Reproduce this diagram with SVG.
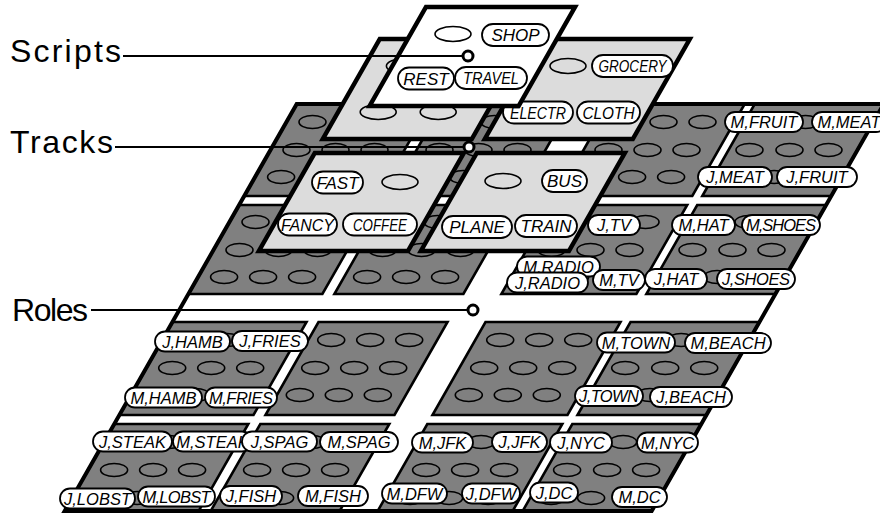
<svg xmlns="http://www.w3.org/2000/svg" xmlns:xlink="http://www.w3.org/1999/xlink" width="880" height="515" viewBox="0 0 880 515">
<style>
.frame{fill:none;stroke:#000;stroke-width:4;stroke-linejoin:miter}
.bg{fill:#fff;stroke:none}
.tile{fill:#808080;stroke:#000;stroke-width:2.6}
.plane{fill:#dcdcdc;stroke:#000;stroke-width:4.5}
.script{fill:#fff;stroke:#000;stroke-width:4.5}
.e{fill:none;stroke:#000;stroke-width:1.6}
.p{fill:#fff;stroke:#000;stroke-width:1.8}
.t{font-family:"Liberation Sans",Arial,sans-serif;font-style:italic;font-size:16.5px;text-anchor:middle;fill:#000}
.tt{font-family:"Liberation Sans",Arial,sans-serif;font-style:italic;font-size:17px;text-anchor:middle;fill:#000}
.lab{font-family:"Liberation Sans",Arial,sans-serif;font-size:32px;fill:#000}
.ln{stroke:#000;stroke-width:2;fill:none}
.mk{fill:#fff;stroke:#000;stroke-width:3}
</style>
<defs>
<ellipse id="re" cx="0" cy="0" rx="13.5" ry="6.5" class="e"/>
<ellipse id="te" cx="0" cy="0" rx="18" ry="7.5" class="e"/>
</defs>

<g id="roles">
<polygon class="bg" points="296.7,104 883.7,104 651.7,511 64.7,511"/>
<g id="tile-r1c1"><polygon class="tile" points="296.7,104 430.7,104 378.3,196 244.3,196"/>
<use href="#re" x="312.5" y="122"/><use href="#re" x="351.5" y="122"/><use href="#re" x="390.5" y="122"/>
<use href="#re" x="296.5" y="150"/><use href="#re" x="335.5" y="150"/><use href="#re" x="374.5" y="150"/>
<use href="#re" x="281.1" y="177"/><use href="#re" x="320.1" y="177"/><use href="#re" x="359.1" y="177"/></g>
<g id="tile-r1c2"><polygon class="tile" points="442.7,104 571.7,104 519.3,196 390.3,196"/>
<use href="#re" x="455.5" y="122"/><use href="#re" x="494.5" y="122"/><use href="#re" x="533.5" y="122"/>
<use href="#re" x="439.5" y="150"/><use href="#re" x="478.5" y="150"/><use href="#re" x="517.5" y="150"/>
<use href="#re" x="424.1" y="177"/><use href="#re" x="463.1" y="177"/><use href="#re" x="502.1" y="177"/></g>
<g id="tile-r1c3"><polygon class="tile" points="609.7,104 744.7,104 692.3,196 557.3,196"/>
<use href="#re" x="624.5" y="122"/><use href="#re" x="663.5" y="122"/><use href="#re" x="702.5" y="122"/>
<use href="#re" x="608.5" y="150"/><use href="#re" x="647.5" y="150"/><use href="#re" x="686.5" y="150"/>
<use href="#re" x="593.1" y="177"/><use href="#re" x="632.1" y="177"/><use href="#re" x="671.1" y="177"/></g>
<g id="tile-r1c4"><polygon class="tile" points="754.7,104 883.7,104 831.3,196 702.3,196"/>
<use href="#re" x="765.5" y="122"/><use href="#re" x="805.5" y="122"/><use href="#re" x="844.5" y="122"/>
<use href="#re" x="749.5" y="150"/><use href="#re" x="789.5" y="150"/><use href="#re" x="828.5" y="150"/>
<use href="#re" x="734.1" y="177"/><use href="#re" x="774.1" y="177"/><use href="#re" x="813.1" y="177"/></g>

<g id="tile-r2c1"><polygon class="tile" points="239.2,205 373.2,205 322.4,294 188.4,294"/>
<use href="#re" x="255.5" y="222"/><use href="#re" x="294.5" y="222"/><use href="#re" x="333.5" y="222"/>
<use href="#re" x="239.5" y="250"/><use href="#re" x="278.5" y="250"/><use href="#re" x="317.5" y="250"/>
<use href="#re" x="224.1" y="277"/><use href="#re" x="263.1" y="277"/><use href="#re" x="302.1" y="277"/></g>
<g id="tile-r2c2"><polygon class="tile" points="385.2,205 514.2,205 463.4,294 334.4,294"/>
<use href="#re" x="398.5" y="222"/><use href="#re" x="437.5" y="222"/><use href="#re" x="476.5" y="222"/>
<use href="#re" x="382.5" y="250"/><use href="#re" x="421.5" y="250"/><use href="#re" x="460.5" y="250"/>
<use href="#re" x="367.1" y="277"/><use href="#re" x="406.1" y="277"/><use href="#re" x="445.1" y="277"/></g>
<g id="tile-r2c3"><polygon class="tile" points="552.2,205 687.2,205 636.4,294 501.4,294"/>
<use href="#re" x="567.5" y="222"/><use href="#re" x="606.5" y="222"/><use href="#re" x="645.5" y="222"/>
<use href="#re" x="551.5" y="250"/><use href="#re" x="590.5" y="250"/><use href="#re" x="629.5" y="250"/>
<use href="#re" x="536.1" y="277"/><use href="#re" x="575.1" y="277"/><use href="#re" x="614.1" y="277"/></g>
<g id="tile-r2c4"><polygon class="tile" points="697.2,205 826.2,205 775.4,294 646.4,294"/>
<use href="#re" x="708.5" y="222"/><use href="#re" x="748.5" y="222"/><use href="#re" x="787.5" y="222"/>
<use href="#re" x="692.5" y="250"/><use href="#re" x="732.5" y="250"/><use href="#re" x="771.5" y="250"/>
<use href="#re" x="677.1" y="277"/><use href="#re" x="717.1" y="277"/><use href="#re" x="756.1" y="277"/></g>

<g id="tile-r3c1"><polygon class="tile" points="172.5,322 306.5,322 253.5,415 119.5,415"/>
<use href="#re" x="188.2" y="340"/><use href="#re" x="227.2" y="340"/><use href="#re" x="266.2" y="340"/>
<use href="#re" x="172.2" y="368"/><use href="#re" x="211.2" y="368"/><use href="#re" x="250.2" y="368"/>
<use href="#re" x="156.8" y="395"/><use href="#re" x="195.8" y="395"/><use href="#re" x="234.8" y="395"/></g>
<g id="tile-r3c2"><polygon class="tile" points="318.5,322 447.5,322 394.5,415 265.5,415"/>
<use href="#re" x="331.2" y="340"/><use href="#re" x="370.2" y="340"/><use href="#re" x="409.2" y="340"/>
<use href="#re" x="315.2" y="368"/><use href="#re" x="354.2" y="368"/><use href="#re" x="393.2" y="368"/>
<use href="#re" x="299.8" y="395"/><use href="#re" x="338.8" y="395"/><use href="#re" x="377.8" y="395"/></g>
<g id="tile-r3c3"><polygon class="tile" points="485.5,322 620.5,322 567.5,415 432.5,415"/>
<use href="#re" x="500.2" y="340"/><use href="#re" x="539.2" y="340"/><use href="#re" x="578.2" y="340"/>
<use href="#re" x="484.2" y="368"/><use href="#re" x="523.2" y="368"/><use href="#re" x="562.2" y="368"/>
<use href="#re" x="468.8" y="395"/><use href="#re" x="507.8" y="395"/><use href="#re" x="546.8" y="395"/></g>
<g id="tile-r3c4"><polygon class="tile" points="630.5,322 759.5,322 706.5,415 577.5,415"/>
<use href="#re" x="641.2" y="340"/><use href="#re" x="681.2" y="340"/><use href="#re" x="720.2" y="340"/>
<use href="#re" x="625.2" y="368"/><use href="#re" x="665.2" y="368"/><use href="#re" x="704.2" y="368"/>
<use href="#re" x="609.8" y="395"/><use href="#re" x="649.8" y="395"/><use href="#re" x="688.8" y="395"/></g>

<g id="tile-r4c1"><polygon class="tile" points="114.3,424 248.3,424 198.7,511 64.7,511"/>
<use href="#re" x="130.1" y="442"/><use href="#re" x="169.1" y="442"/><use href="#re" x="208.1" y="442"/>
<use href="#re" x="114.1" y="470"/><use href="#re" x="153.1" y="470"/><use href="#re" x="192.1" y="470"/>
<use href="#re" x="98.1" y="498"/><use href="#re" x="137.1" y="498"/><use href="#re" x="176.1" y="498"/></g>
<g id="tile-r4c2"><polygon class="tile" points="260.3,424 389.3,424 339.7,511 210.7,511"/>
<use href="#re" x="273.1" y="442"/><use href="#re" x="312.1" y="442"/><use href="#re" x="351.1" y="442"/>
<use href="#re" x="257.1" y="470"/><use href="#re" x="296.1" y="470"/><use href="#re" x="335.1" y="470"/>
<use href="#re" x="241.1" y="498"/><use href="#re" x="280.1" y="498"/><use href="#re" x="319.1" y="498"/></g>
<g id="tile-r4c3"><polygon class="tile" points="427.3,424 562.3,424 512.7,511 377.7,511"/>
<use href="#re" x="442.1" y="442"/><use href="#re" x="481.1" y="442"/><use href="#re" x="520.1" y="442"/>
<use href="#re" x="426.1" y="470"/><use href="#re" x="465.1" y="470"/><use href="#re" x="504.1" y="470"/>
<use href="#re" x="410.1" y="498"/><use href="#re" x="449.1" y="498"/><use href="#re" x="488.1" y="498"/></g>
<g id="tile-r4c4"><polygon class="tile" points="572.3,424 701.3,424 651.7,511 522.7,511"/>
<use href="#re" x="583.1" y="442"/><use href="#re" x="623.1" y="442"/><use href="#re" x="662.1" y="442"/>
<use href="#re" x="567.1" y="470"/><use href="#re" x="607.1" y="470"/><use href="#re" x="646.1" y="470"/>
<use href="#re" x="551.1" y="498"/><use href="#re" x="591.1" y="498"/><use href="#re" x="630.1" y="498"/></g>

<polygon id="roles-frame" class="frame" points="296.7,104 883.7,104 651.7,511 64.7,511"/>

<g id="role-pills">
<g><rect class="p" x="725" y="112" width="78" height="20" rx="10"/><text class="t" x="764" y="128">M,FRUIT</text></g>
<g><rect class="p" x="812" y="112" width="74" height="20" rx="10"/><text class="t" x="849" y="128">M,MEAT</text></g>
<g><rect class="p" x="698" y="167" width="74" height="20" rx="10"/><text class="t" x="735" y="183">J,MEAT</text></g>
<g><rect class="p" x="777" y="167" width="80" height="20" rx="10"/><text class="t" x="817" y="183">J,FRUIT</text></g>
<g><rect class="p" x="588" y="215" width="52" height="20" rx="10"/><text class="t" x="614" y="231">J,TV</text></g>
<g><rect class="p" x="672" y="215" width="63" height="20" rx="10"/><text class="t" x="703.5" y="231">M,HAT</text></g>
<g><rect class="p" x="742" y="215" width="78" height="20" rx="10"/><text class="t" x="781" y="231" textLength="70">M,SHOES</text></g>
<g><rect class="p" x="517" y="256.5" width="83" height="20" rx="10"/><text class="t" x="558.5" y="272.5">M,RADIO</text></g>
<g><rect class="p" x="507" y="272.5" width="81" height="20" rx="10"/><text class="t" x="547.5" y="288.5">J,RADIO</text></g>
<g><rect class="p" x="593" y="270" width="52" height="20" rx="10"/><text class="t" x="619" y="286">M,TV</text></g>
<g><rect class="p" x="645" y="269" width="62" height="20" rx="10"/><text class="t" x="676" y="285">J,HAT</text></g>
<g><rect class="p" x="717" y="269" width="78" height="20" rx="10"/><text class="t" x="756" y="285" textLength="68">J,SHOES</text></g>
<g><rect class="p" x="155" y="331.5" width="75" height="20" rx="10"/><text class="t" x="192.5" y="347.5">J,HAMB</text></g>
<g><rect class="p" x="232" y="331" width="76" height="20" rx="10"/><text class="t" x="270" y="347">J,FRIES</text></g>
<g><rect class="p" x="597" y="332.5" width="78" height="20" rx="10"/><text class="t" x="636" y="348.5">M,TOWN</text></g>
<g><rect class="p" x="685" y="333" width="86" height="20" rx="10"/><text class="t" x="728" y="349">M,BEACH</text></g>
<g><rect class="p" x="125" y="387.5" width="77" height="20" rx="10"/><text class="t" x="163.5" y="403.5">M,HAMB</text></g>
<g><rect class="p" x="205" y="387.5" width="72" height="20" rx="10"/><text class="t" x="241" y="403.5" textLength="64">M,FRIES</text></g>
<g><rect class="p" x="575" y="386" width="68" height="20" rx="10"/><text class="t" x="609" y="402" textLength="60">J,TOWN</text></g>
<g><rect class="p" x="650" y="387" width="82" height="20" rx="10"/><text class="t" x="691" y="403">J,BEACH</text></g>
<g><rect class="p" x="93" y="431.5" width="79" height="20" rx="10"/><text class="t" x="132.5" y="447.5">J,STEAK</text></g>
<g><rect class="p" x="173" y="431.5" width="79" height="20" rx="10"/><text class="t" x="212.5" y="447.5">M,STEAK</text></g>
<g><rect class="p" x="242" y="431.5" width="75" height="20" rx="10"/><text class="t" x="279.5" y="447.5">J,SPAG</text></g>
<g><rect class="p" x="320" y="432" width="78" height="20" rx="10"/><text class="t" x="359" y="448">M,SPAG</text></g>
<g><rect class="p" x="412" y="432.5" width="61" height="20" rx="10"/><text class="t" x="442.5" y="448.5">M,JFK</text></g>
<g><rect class="p" x="492" y="432" width="55" height="20" rx="10"/><text class="t" x="519.5" y="448">J,JFK</text></g>
<g><rect class="p" x="550" y="432.5" width="62" height="20" rx="10"/><text class="t" x="581" y="448.5">J,NYC</text></g>
<g><rect class="p" x="637" y="432.5" width="61" height="20" rx="10"/><text class="t" x="667.5" y="448.5">M,NYC</text></g>
<g><rect class="p" x="60" y="488.5" width="75" height="20" rx="10"/><text class="t" x="97.5" y="504.5">J,LOBST</text></g>
<g><rect class="p" x="138" y="486.5" width="77" height="20" rx="10"/><text class="t" x="176.5" y="502.5" textLength="68">M,LOBST</text></g>
<g><rect class="p" x="220" y="486" width="62" height="20" rx="10"/><text class="t" x="251" y="502">J,FISH</text></g>
<g><rect class="p" x="298" y="486" width="70" height="20" rx="10"/><text class="t" x="333" y="502">M,FISH</text></g>
<g><rect class="p" x="382" y="483.5" width="65" height="20" rx="10"/><text class="t" x="414.5" y="499.5">M,DFW</text></g>
<g><rect class="p" x="462" y="483.5" width="58" height="20" rx="10"/><text class="t" x="491" y="499.5">J,DFW</text></g>
<g><rect class="p" x="530" y="482.5" width="48" height="20" rx="10"/><text class="t" x="554" y="498.5">J,DC</text></g>
<g><rect class="p" x="612" y="487" width="55" height="20" rx="10"/><text class="t" x="639.5" y="503">M,DC</text></g>
</g>
</g>

<g id="tracks">
<g id="track-tl"><polygon class="plane" points="379.8,39 528.8,39 471.8,139 322.8,139"/>
<use href="#te" x="404.4" y="66"/><use href="#te" x="464.4" y="66"/><use href="#te" x="378.2" y="112"/><use href="#te" x="438.2" y="112"/></g>
<g id="track-tr"><polygon class="plane" points="541.8,39 689.8,39 632.8,139 484.8,139"/>
<use href="#te" x="568" y="66"/>
<rect class="p" x="592" y="55" width="81" height="22" rx="11"/><text class="tt" x="632.5" y="72" textLength="68" lengthAdjust="spacingAndGlyphs">GROCERY</text>
<rect class="p" x="503" y="101.5" width="70" height="22" rx="11"/><text class="tt" x="538" y="118.5" textLength="56" lengthAdjust="spacingAndGlyphs">ELECTR</text>
<rect class="p" x="577" y="101.5" width="63" height="22" rx="11"/><text class="tt" x="608.5" y="118.5" textLength="52" lengthAdjust="spacingAndGlyphs">CLOTH</text></g>
<g id="track-bl"><polygon class="plane" points="314.8,153 463.8,153 407.9,251 258.9,251"/>
<use href="#te" x="400" y="182"/>
<rect class="p" x="312" y="171.5" width="51" height="22" rx="11"/><text class="tt" x="337.5" y="188.5">FAST</text>
<rect class="p" x="278" y="213.5" width="59" height="22" rx="11"/><text class="tt" x="307.5" y="230.5" textLength="53" lengthAdjust="spacingAndGlyphs">FANCY</text>
<rect class="p" x="343" y="213.5" width="74" height="22" rx="11"/><text class="tt" x="380" y="230.5" textLength="54" lengthAdjust="spacingAndGlyphs">COFFEE</text></g>
<g id="track-br"><polygon class="plane" points="476.8,153 624.8,153 568.9,251 420.9,251"/>
<use href="#te" x="503" y="181"/>
<rect class="p" x="542" y="170" width="45" height="22" rx="11"/><text class="tt" x="564.5" y="187">BUS</text>
<rect class="p" x="442" y="216" width="70" height="22" rx="11"/><text class="tt" x="477" y="233">PLANE</text>
<rect class="p" x="515" y="215" width="62" height="22" rx="11"/><text class="tt" x="546" y="232">TRAIN</text></g>
</g>

<g id="scripts">
<polygon class="script" points="426,7 575,7 518.6,106 369.6,106"/>
<use href="#te" x="453" y="34"/>
<rect class="p" x="482" y="24" width="67" height="22" rx="11"/><text class="tt" x="515.5" y="41">SHOP</text>
<rect class="p" x="398" y="67.5" width="56" height="22" rx="11"/><text class="tt" x="426" y="84.5">REST</text>
<rect class="p" x="455" y="67" width="72" height="22" rx="11"/><text class="tt" x="491" y="84" textLength="56" lengthAdjust="spacingAndGlyphs">TRAVEL</text>
</g>

<g id="connectors">
<line class="ln" x1="123" y1="56" x2="463" y2="56"/>
<line class="ln" x1="115" y1="147" x2="464" y2="147"/>
<line class="ln" x1="91" y1="310" x2="468" y2="310"/>
<circle class="mk" cx="468" cy="56" r="5"/>
<circle class="mk" cx="469" cy="147" r="5"/>
<circle class="mk" cx="473" cy="310" r="5"/>
</g>

<g id="labels">
<text class="lab" x="10" y="62" textLength="111">Scripts</text>
<text class="lab" x="10" y="153" textLength="103">Tracks</text>
<text class="lab" x="12" y="321" textLength="76">Roles</text>
</g>
</svg>
